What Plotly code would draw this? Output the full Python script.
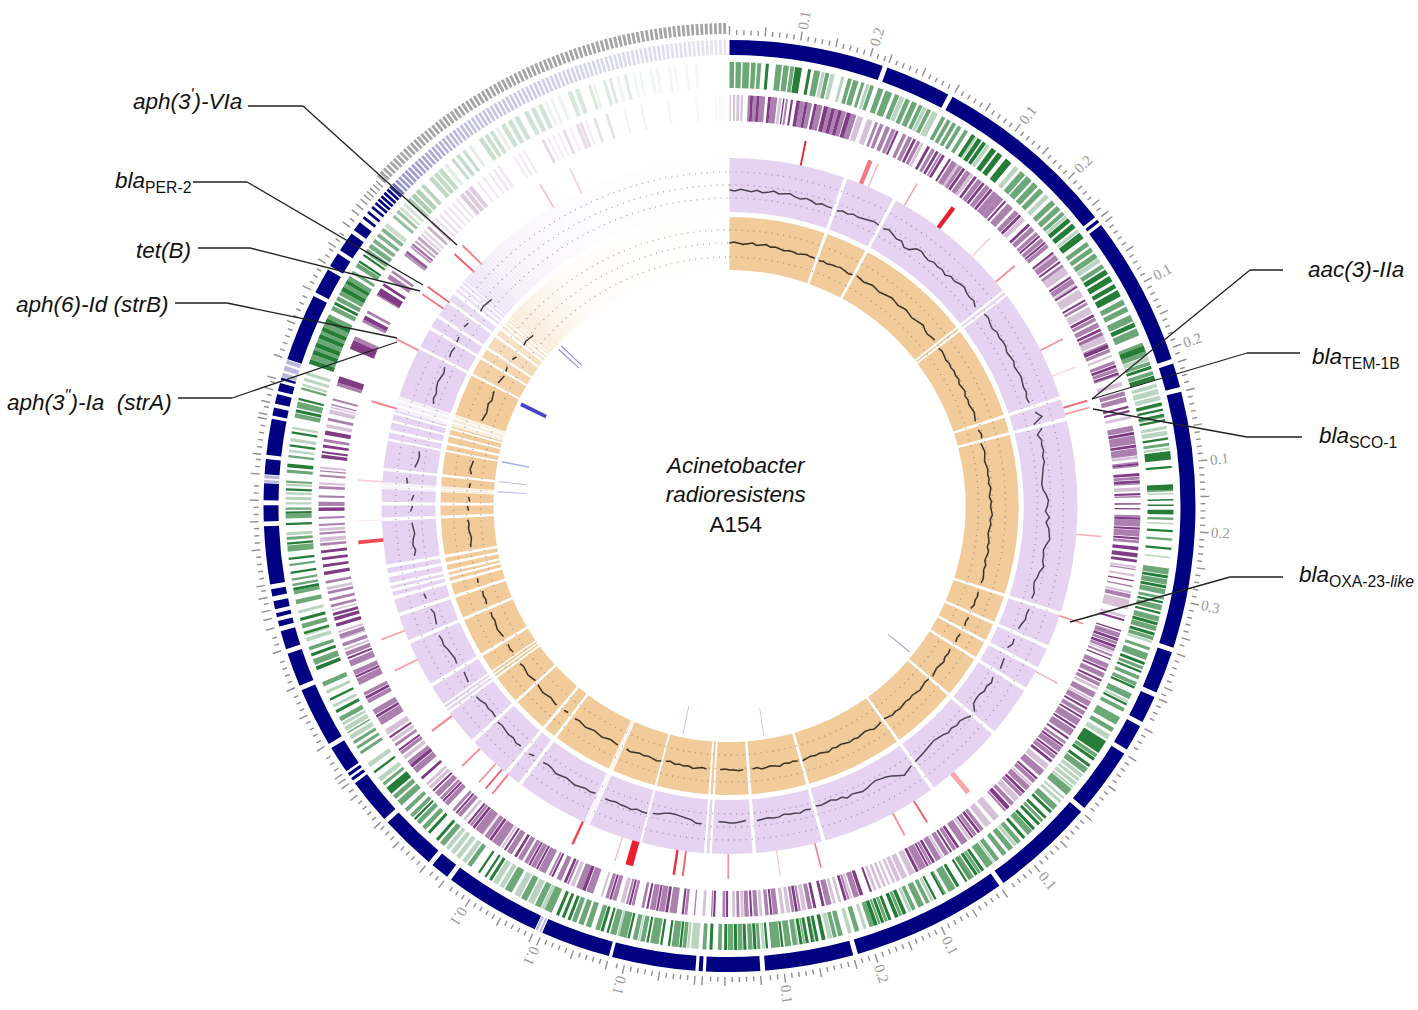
import numpy as np
import plotly.graph_objects as go

# ---------- contigs (degrees clockwise from 12 o'clock) ----------
contigs = [(0,19.2),(19.8,28),(28.6,51.7),(52.1,52.5),(52.9,71.6),(72.2,75.2),(75.8,107.7),(108.3,113.6),
 (114.2,117.6),(118.2,121.5),(122.1,130.4),(131,144),(144.6,164),(164.6,175.6),(176.2,182.9),(183.3,183.8),
 (184.2,194.6),(195,203.7),(204.7,216.7),(217.3,219.6),(220.2,227.2),(227.8,233.5),(233.9,234.3),(234.6,235),
 (235.3,238.7),(239.3,246.7),(247.3,251.5),(252.1,254.4),(255,255.7),(256.2,256.7),(257.2,258.2),(258.8,259.7),
 (260.3,267.5),(268.1,270.1),(270.7,272.8),(273.9,275.8),(276.3,280.8),(281.2,282.2),(282.7,283.9),(284.3,285.3),
 (285.7,286),(288.4,296.8),(297.3,300.5),(301,302.8),(303.3,305.8),(306.3,307.5)]
pale_contigs = [(203.85,204.1),(204.3,204.6),(272.9,273.2),(273.4,273.8),(286.1,286.6),(286.9,287.5),(287.8,288.3)]
rib_contigs = [308.1,308.95,309.75,310.4,310.95,311.5,312.05,312.6,313.1,313.6,314.15,314.7,315.25,315.8,316.35,316.9,
 317.45,318,318.55,319.1,319.65,320.2,320.75,321.3,321.85,322.4,322.95,323.5,324.05,324.6,325.15,325.7,326.25,326.8,
 327.35,327.9,328.45,329,329.55,330.1,330.65,331.2,331.75,332.3,332.85,333.4,333.95,334.5,335.05,335.6,336.15,336.7,
 337.25,337.8,338.35,338.9,339.45,340,340.55,341.1,341.65,342.2,342.75,343.3,343.85,344.4,344.95,345.5,346.05,346.6,
 347.15,347.7,348.25,348.8,349.35,349.9,350.45,351,351.55,352.1,352.65,353.2,353.75,354.3,354.85,355.4,355.95,356.5,
 357.05,357.6,358.15,358.7,359.25]

# ---------- forward-strand genes (green track) ----------
green_dark = [(4.7,5.1),(8.5,9.4),(10.2,10.6),(33.1,33.6),(34,34.6),(34.8,35.3),(36.2,36.9),(37.2,37.9),(38.5,39.4),(49.6,50.2),
 (50.5,51.2),(52,52.9),(57.8,58.5),(58.8,59.6),(60,60.6),(60.9,61.8),(65.6,66.2),(68.8,69.6),(71.6,72),(72.9,73.5),
 (76.5,76.9),(77.3,77.6),(78,78.3),(78.7,79),(81.1,81.4),(82.9,84),(84.8,85.1),(87.2,87.9),(89.1,89.3),(89.8,90),
 (90.5,91.1),(93.1,93.4),(95.4,95.7),(99,99.4),(100.3,100.7),(102.4,102.7),(103.8,104.1),(105.2,105.6),(106.6,107),
 (110.6,111),(111.8,112.1),(114,114.3),(116.4,116.7),(122,123.8),(124.6,125),(125.6,126),(133.4,133.8),(134.4,134.8),
 (135.6,136),(136.5,136.9),(138.2,138.6),(145,145.4),(146,146.4),(147.6,147.9),(148.8,149.2),(151,151.3),(152.2,152.5),
 (156.5,157),(157.6,158.1),(158.6,159),(159.6,160),(160.5,161),(167.5,168),(168.4,168.8),(169,169.4),(169.7,170.1),
 (170.5,170.9),(173,173.3),(175,175.3),(176.5,176.9),(177.8,178.2),(179,179.4),(180.3,180.7),(182.2,182.6),(186.2,186.5),
 (187.7,188),(188.7,189),(190.5,190.8),(193,193.3),(195.8,196.1),(196.5,196.9),(201,201.4),(201.8,202.2),(202.6,203),
 (212.4,212.8),(213.2,213.5),(214.2,214.5),(221,221.4),(222.4,222.8),(225,225.3),(229.6,230.6),(233,233.3),(242.2,242.6),
 (244,244.3),(248.3,248.8),(250.2,250.6),(253.2,253.5),(255,255.4),(259,259.4),(261.2,261.5),(263,263.3),(265,265.3),
 (267.5,267.8),(269,269.3),(272,272.3),(275,275.5),(277.7,278),(279.4,279.7),(282.2,282.6),(283.8,284.1),(288.7,289.3),
 (290,290.6),(291,291.6),(292.2,292.8),(293.2,293.8),(294.4,295),(297,297.4),(299,299.6),(300.1,300.6),(303.3,303.6),(304.3,304.6)]
green_mid = [(0,.6),(.8,1.5),(1.7,2.6),(2.8,3.4),(3.6,4.1),(6,6.8),(7,7.7),(7.9,8.4),(11,11.8),(12.5,13),(15.5,16),
 (16.2,16.9),(17.3,17.7),(18.5,19),(19.6,20.3),(20.6,21.5),(21.9,22.5),(23.4,24),(24.3,25),(25.3,25.8),(26.5,27),
 (28.6,29.1),(29.4,29.9),(30.2,30.7),(31,31.5),(32,32.5),(41,41.8),(42,42.9),(43.2,44),(44.3,45),(46.5,47.2),(47.5,48.2),
 (48.5,49),(53.5,54.1),(54.4,55),(55.3,56),(57,57.6),(62.3,63),(63.3,64),(64.5,65.4),(66.4,67.4),(68.4,68.8),(69.6,70.2),
 (71,71.5),(72.3,72.8),(76.7,77),(78.1,78.5),(81.8,82.2),(87.9,88.1),(91.5,91.8),(94.2,94.5),(98.1,98.9),(99.5,100.2),
 (100.8,101.5),(101.8,102.2),(102.9,103.6),(104.4,105.1),(105.7,106.4),(107.1,107.6),(108.6,109),(109.4,110.3),(111.2,111.6),
 (112.5,113),(113.4,113.9),(115,115.8),(117.1,117.6),(118.4,119.5),(120,120.6),(124,124.5),(126.2,127),(129.6,130.6),
 (132.4,133.2),(135,135.4),(137,137.8),(139,139.6),(140.3,141),(141.4,142),(142.6,143.2),(143.6,144.6),(145.5,145.9),
 (146.6,147.4),(149.4,150.4),(150.8,151),(153.2,153.7),(154,154.8),(155.2,155.7),(157.1,157.5),(159.1,159.5),(160.1,160.4),
 (161,161.6),(163,163.6),(165.2,165.8),(166,166.5),(168.9,169),(170.2,170.4),(171.2,171.8),(172,172.8),(173.4,174.6),
 (176,176.4),(177,177.6),(178.3,178.9),(179.5,180.2),(181,181.5),(183,183.5),(185.6,186.1),(186.6,187.5),(189.2,190.3),
 (191,191.6),(192,192.6),(193.4,194.4),(194.8,195.6),(197,197.6),(198.2,198.9),(199.2,199.9),(200.2,200.8),(203.6,204.6),
 (205.2,206),(207.2,208),(209.4,210.4),(215.6,216.2),(220,220.7),(223.2,223.8),(224.2,224.8),(225.5,226),(226.5,227),
 (227.6,228.4),(228.7,229.3),(231,231.4),(236,236.4),(236.8,237.2),(237.6,238),(239.2,239.4),(241,241.6),(246,246.6),
 (249,249.8),(251,251.5),(254,254.6),(257.2,257.8),(258.5,259),(259.6,259.9),(260.3,260.6),(262.2,262.5),(264.1,264.9),
 (265.6,266),(268.4,269),(269.5,269.8),(273,273.3),(274.3,274.7),(276.3,276.6),(281.5,282.1),(282.8,283.6),(285.2,285.5),
 (289.3,290),(290.6,291),(291.6,292.2),(292.8,293.2),(293.8,294.4),(295,295.6),(296.2,296.8),(297.6,298.2),(298.4,299),
 (299.6,300.1),(300.6,301.2),(301.6,302),(302.6,303.2),(304.8,305.4),(305.6,306.2),(306.5,307),(307.4,307.9),(308.3,308.8),
 (310.6,311),(311.4,311.8),(313.4,314),(314.2,314.8),(315,315.6),(316,316.5),(317.4,318),(318.2,318.8),(319,319.6),
 (321.2,321.6),(322,322.5),(323,323.4),(325.6,326.2),(326.5,327),(327.3,327.8),(329,329.6),(330,330.6),(331,331.6),(332.4,333),
 (333.4,334),(334.4,335),(338.6,339.2),(339.6,340.2),(341.4,341.8),(343.4,343.8),(344.2,344.6),(346.2,346.6)]
green_pale = [(12,12.4),(13.2,13.7),(14.6,15),(18,18.4),(22.6,23.2),(25.9,26.4),(27.2,28),(33.6,33.9),(35.4,35.9),(40,40.6),
 (45.4,46),(49.1,49.5),(51.5,51.9),(56.1,56.7),(70.3,70.9),(74,74.5),(74.7,75.4),(75.6,76.2),(79.6,80),(80.2,80.8),(82.4,82.7),
 (88.3,88.5),(92.2,92.4),(96.6,96.8),(107.7,108),(116,116.3),(121,121.7),(127.2,127.7),(127.9,128.3),(128.5,129),(129.2,129.5),
 (131,131.3),(131.6,132),(139.7,140.1),(143.3,143.5),(147,147.3),(152.6,153),(155.8,156.2),(162,162.4),(164,164.5),(166.6,167.2),
 (171,171.2),(175.4,175.8),(184,185),(185.2,185.5),(191.7,191.9),(194.4,194.7),(204.6,205.1),(206.2,207),(208.2,209),
 (210.6,211.2),(211.5,212.2),(216.4,217),(217.4,218),(218.3,218.9),(219.2,219.7),(231.7,232.3),(234,234.6),(238.3,238.9),
 (239.6,240.2),(240.4,240.8),(243,243.4),(245,245.4),(252.2,252.7),(253,253.6),(256,256.4),(266.2,266.6),(270.2,270.5),
 (270.8,271.2),(271.5,271.8),(272.6,272.9),(277,277.3),(278.4,278.8),(280,280.3),(285.7,286),(286.4,286.8),(287.2,287.6),
 (309,309.6),(312,312.4),(312.7,313.1),(320,320.5),(324,324.4),(328.2,328.6),(335.4,335.7),(336.2,336.5),(337.2,337.6),
 (342,342.3),(345.2,345.6),(347.4,347.7),(348.2,348.5),(349.6,350),(350.4,350.8),(352,352.4),(352.8,353.1),(354.2,354.6),(355.5,355.9)]

# ---------- reverse-strand genes (purple track) ----------
purple_dark = [(2.9,3.3),(3.8,4.2),(5.4,5.8),(7.5,7.7),(8.6,8.9),(9.4,9.9),(10.6,11),(11.9,12.3),(13.3,13.9),(14.4,14.9),(15.4,15.9),
 (16.6,17.2),(24,24.3),(26.6,27),(28.8,29.2),(30.2,30.6),(31.2,31.6),(32.3,32.6),(34.6,35),(36.6,37),(38,38.4),(39.4,39.8),
 (42,42.3),(44.8,45.2),(46.6,47),(48.8,49.1),(50,50.3),(51.8,52.1),(53.4,53.7),(56,56.3),(57.6,57.9),(59.8,60.1),(62.2,62.6),
 (64.4,64.8),(66.8,67.4),(69.9,70.3),(71,71.3),(75.9,76.2),(76.5,76.8),(79.6,80),(81.4,81.8),(84,84.3),(85.4,85.8),(86.4,86.8),
 (88.2,88.5),(89.6,89.8),(90.3,90.5),(91.6,91.9),(93,93.3),(94.4,94.7),(95.7,96.2),(96.6,97.2),(97.5,97.9),(100.4,100.6),
 (106,106.3),(107.6,107.8),(108.8,109.2),(109.8,110.2),(111.8,112),(113.4,113.7),(115,115.3),(119.4,119.7),(120.8,121.1),
 (122.5,122.8),(124.3,124.6),(125.6,125.9),(127,127.3),(128.2,128.6),(131.4,131.7),(134,134.4),(137,137.6),(142.4,142.8),
 (143.6,143.9),(146,146.4),(147.2,147.5),(150,150.4),(151,151.3),(152.6,153),(159.7,160),(161,161.5),(163.4,163.8),(166.6,167),
 (167.8,168.2),(170.4,170.8),(174,174.3),(176.8,177.1),(180.2,180.5),(182,182.3),(186.4,186.7),(188.6,189),(190,190.3),
 (191.4,191.7),(193.9,194.2),(196.7,197),(200.5,201),(203.4,203.8),(205.4,205.7),(207.8,208.1),(209,209.3),(211.2,211.6),
 (213,213.3),(215.4,215.8),(218.3,218.7),(219.3,219.6),(221.5,221.8),(224,224.3),(226,226.3),(228.3,228.7),(230.5,231),
 (233.4,233.7),(235.6,235.9),(239,239.4),(242,242.4),(245.3,245.6),(248.1,248.4),(252.9,253.4),(253.8,254.3),(254.5,254.9),
 (260.3,260.8),(261.4,261.8),(262.4,262.8),(263.4,263.8),(269.3,269.8),(276.7,277.2),(277.4,277.7),(278.2,278.6),(280,280.6),
 (287.5,288.4),(292.5,293.8),(297,297.6),(301,302),(302.4,302.8),(308,308.4),(309.4,309.7)]
purple_mid = [(2.6,2.9),(3.3,3.8),(4.2,5),(5.8,6.7),(7.9,8.2),(9.9,10.6),(11,11.6),(12.3,13.1),(13.9,14.4),(14.9,15.4),(15.9,16.5),
 (17.2,18),(20.8,21.2),(21.5,22),(22.4,23),(23.3,23.8),(25,25.5),(25.8,26.4),(27.2,27.7),(29.5,30),(30.8,31.1),(32.8,33.6),
 (34,34.5),(35.2,35.9),(37.2,37.9),(38.6,39.3),(40,41),(41,41.8),(42.6,43.6),(44,44.7),(47.2,47.9),(48.2,48.7),(49.3,49.9),
 (50.4,51),(52.4,53.2),(54,54.4),(56.4,57.2),(60.3,60.7),(62.7,63.2),(63.5,64.2),(65,65.4),(66.6,66.8),(67.5,68),(69.3,69.8),
 (70.4,70.9),(71.2,71.5),(73.8,74.4),(74.6,75.3),(78.7,79.5),(80.1,81.3),(81.9,82.9),(83.8,84),(84.3,84.5),(85.9,86.3),(86.8,87),
 (88.6,88.8),(91.3,91.6),(91.9,92.9),(93.4,94.3),(94.8,95.2),(98.8,99),(101.2,101.4),(102.4,103),(108,108.7),(109.3,109.7),
 (110.3,110.7),(111.2,111.5),(112.6,113.3),(114,114.7),(115.5,116),(117,117.8),(118.4,119.2),(120,120.6),(121.3,122.3),(123,124),
 (125,125.4),(126,126.8),(127.4,128),(130,131),(131.8,132.4),(133,133.8),(134.5,135),(136.2,136.8),(137.7,138),(141.8,142.3),
 (143,143.5),(144.6,145.6),(146.5,147),(147.7,148.4),(149,149.8),(150.5,150.9),(151.4,152.4),(161.6,162.4),(163,163.3),(165.6,166.4),
 (168.4,169),(170,170.3),(170.9,171.3),(173.2,173.9),(174.5,175),(176,176.6),(177.3,177.9),(178.6,179),(180.6,181),(182.4,182.6),
 (184.8,185),(185.9,186.3),(187.4,188.4),(189.1,189.9),(190.4,191.2),(192,192.4),(193.4,193.8),(194.3,194.6),(196,196.6),(197.1,197.6),
 (199.4,200.4),(201,201.9),(203,203.3),(204.2,204.9),(205.8,206.1),(206.6,207.7),(208.2,208.9),(209.4,210),(210.3,211),(212,212.8),
 (214,215.3),(215.9,216.6),(217,218.2),(218.8,219.2),(220.8,221.4),(222,222.4),(223.2,223.9),(224.4,224.8),(225,225.8),(229.5,230.4),
 (231,231.6),(232.8,233.3),(234.2,234.6),(237.8,238.9),(239.5,240.3),(241.3,241.9),(242.5,243),(244.2,245.2),(245.7,246.4),(247,247.9),
 (248.6,249.2),(250,250.5),(251.2,251.8),(255.7,256.1),(256.6,257),(257.6,258),(259.1,259.5),(264.4,264.8),(266,266.3),(267.2,267.5),
 (268.2,268.5),(270,270.6),(271.2,271.5),(272.4,272.8),(274.1,274.4),(274.8,275),(279,279.4),(282,282.4),(284.2,284.4),(284.9,285.2),
 (287,287.5),(293.8,294.4),(296.6,297),(298,298.4),(300.8,301),(303.6,304.3),(304.6,305),(307.6,308),(309,309.3),(310,310.3),(310.6,311),
 (312.6,313),(313.4,313.8),(319,319.6),(319.8,320.4),(320.6,321.2),(332.8,333.2),(336,336.4),(338,338.5),(338.6,339),(340.6,341),(342.4,342.8)]
purple_pale = [(0,.2),(.5,.8),(1,1.4),(1.6,1.9),(6.9,7.3),(18.2,19),(19.6,20.4),(23.8,24),(27.8,28.2),(33.6,34),(35.9,36.4),(39.9,40),
 (45.3,46),(52.1,52.4),(54.4,55.6),(57.3,57.6),(58.2,59.4),(61,62),(64.9,66.4),(68.4,68.7),(72.4,73),(77.3,77.7),(83,83.4),(87.4,87.9),
 (98.4,98.7),(99.6,99.9),(102,102.3),(103.2,104.6),(105.4,105.8),(110.8,111),(116.2,116.6),(118,118.3),(129,129.8),(132.6,132.9),
 (135.2,136),(139,140),(140.5,141.4),(144,144.4),(148.6,148.9),(152.4,152.7),(153.2,154),(154.4,155.2),(155.4,156),(156.2,156.6),
 (157,157.3),(157.6,158),(158.3,158.7),(159,159.4),(162.6,162.9),(164.2,164.6),(165,165.4),(169.2,169.8),(171.5,172),(172.3,172.8),
 (175.4,175.8),(178,178.4),(179.2,179.6),(183.4,183.8),(194.8,195.4),(198,198.3),(202.2,202.7),(213.5,213.8),(216.8,217),(220,220.4),
 (226.5,227),(227.2,227.6),(232,232.5),(234.9,235.4),(236.2,237),(249.4,249.7),(251,251.2),(252,252.3),(255.2,255.4),(258.2,258.6),
 (265,265.6),(266.5,266.9),(273,273.3),(275.2,275.5),(281,281.5),(283,283.6),(283.8,284),(310.5,310.6),(311.2,311.6),(311.8,312.2),
 (314.2,314.5),(315,315.3),(315.8,316.1),(316.6,316.9),(317.4,317.7),(318.2,318.5),(322,322.3),(323,323.3),(324,324.3),(324.8,325.2),
 (325.6,326),(328.2,328.5),(329,329.3),(329.8,330.1),(333.6,333.9),(334.4,334.7),(335.2,335.5),(337,337.3),(339.4,339.7),(345,345.3),
 (347.4,347.7),(351.2,351.5),(355.2,355.5),(358,358.2),(358.5,358.7),(358.9,359.1),(359.3,359.5)]

# ---------- resistance / mobile elements ----------
red_theta = [11.8,22.2,23.5,30.2,36.9,44.2,49.9,63.4,68.1,73.6,74.7,94.7,108.4,118.4,140.2,148,152,165.8,172.2,180.2,187.2,188.6,
 195.6,197.9,204.9,219.5,220.8,222.2,225.8,232.9,243.8,249,264.4,267.7,274,286.3,296.6,304.6,306,312.5,314.3,329.5,334.7]
red_width = [.3,.7,.25,.25,.7,.25,.3,.25,.2,.3,.25,.25,.25,.2,.8,.3,.3,.25,.2,.25,.3,.4,1.2,.2,.4,.3,.3,.3,.3,.35,.25,.3,.55,.15,.2,.3,.3,.3,.3,.3,.3,.25,.25]
red_level = [1,.6,.3,.4,1,.2,.5,.5,.2,.7,.5,.35,.5,.4,.4,.7,.5,.6,.25,.5,.7,.9,1,.3,.8,.6,.7,.45,.5,.5,.45,.4,.8,.12,.25,.55,.5,.6,.7,.8,.7,.6,.5]
blue_theta = [129,171.5,191.5,273.5,276,281,296,312.5,313.6]
blue_width = [.25,.2,.2,.3,.3,.4,1,.3,.3]
blue_level = [.5,.35,.4,.35,.35,.45,1,.6,.6]

# ---------- GC content and GC skew (deviation, one value per degree from 0) ----------
gc_content = [-5,-6,-4,-5,-6,-4,-6,-5,-3,-5,-4,-3,-5,-6,-4,-5,-7,-5,-6,-6,
 -7,-5,-6,-4,-5,-4,-3,-2,-3,-4,-2,-4,-6,-5,-9,-8,-3,-2,-4,-5,
 -3,-4,-3,-5,-2,-3,-1,0,-2,-3,-2,-5,-1,-2,-1,-3,-4,-2,-3,-2,
 -2,-4,-3,-2,-4,-3,-2,-3,-4,-3,-5,-4,-3,-1,4,-6,1,-5,-2,-3,
 -2,-4,-3,-5,-6,-7,-8,-7,-4,-2,-3,-5,-1,-4,-1,0,1,-2,-4,-3,
 -3,-1,-4,-5,-7,-6,-4,-5,-3,-4,-5,-4,-6,-7,-5,-7,-6,-9,-8,-7,
 -6,-5,-6,-7,-5,-7,-6,-8,-8,-7,-1,-1,-4,-6,-5,-7,-6,-8,-9,-10,
 -9,-8,-7,-6,-5,-4,-2,0,-3,-6,-8,-9,-10,-9,-7,-6,-7,-8,-6,-9,
 -8,-10,-9,-8,-9,-7,-8,-6,-7,-7,-8,-6,-6,-7,-6,-5,-7,-6,-5,-4,
 -4,-5,-5,-3,-4,-2,-2,-5,-6,-7,-8,-8,-7,-5,-4,-3,-3,-4,-2,-3,
 -3,-4,-3,-3,-2,-4,-3,-4,-3,-2,-3,-4,-3,-2,-4,-5,-4,-3,-4,-2,
 -3,-3,-2,-4,-3,-4,-5,-4,-6,-7,-6,-7,-5,-4,-6,-7,-6,-7,-8,-5,
 -6,-7,-6,-5,-3,-4,-3,-6,-5,-6,-7,-5,-3,-4,-3,-2,-4,-2,-1,-2,
 -3,-2,-4,-2,-3,-5,-4,-3,-1,-2,-4,-3,-5,-1,2,3,-2,-4,-6,-7,
 -6,-7,-5,-6,-8,-7,-5,-6,-7,-8,-6,-7,-5,-4,-5,-6,-4,-5,-4,-3,
 -4,-3,-2,-3,-1,-2,-4,-3,-5,-4,-5,-6]
gc_skew = [0,1,0,-1,0,1,-1,0,1,-1,0,-1,-2,-1,-1,-2,-1,0,-1,-1,
 -2,-1,-2,-1,-1,0,-1,-2,-1,0,-1,-2,-1,0,-1,-2,-1,0,1,0,
 -1,0,1,0,-1,0,1,2,0,-1,0,1,0,-1,0,-1,-2,-1,-2,-1,
 -2,-1,-3,-2,-1,-3,-2,-3,-2,-1,-2,-3,-2,-3,-1,-2,-4,-3,-2,-3,
 -4,-3,-2,-3,-2,-3,-1,-2,-3,-1,-2,-1,0,-2,-1,-2,-3,-2,-1,-2,
 0,-1,-2,0,-1,0,1,0,-1,0,1,0,1,-1,0,1,0,1,2,1,
 0,1,-1,0,1,0,2,1,0,1,2,1,0,1,2,1,0,1,0,1,
 2,1,2,1,0,1,2,3,1,0,1,2,1,2,1,0,1,0,2,1,
 0,1,0,1,2,1,0,1,0,2,1,0,1,2,0,1,0,1,2,1,
 1,0,1,2,0,1,0,1,2,0,1,0,1,-1,0,1,2,1,0,1,
 0,1,2,1,0,1,0,-1,0,1,0,-1,0,1,0,-1,0,1,-1,0,
 -1,1,0,-1,0,1,0,-1,-2,-1,0,-1,-2,-1,0,-1,-2,-1,-2,-1,
 -2,-1,0,-1,-2,-1,-2,0,-1,-2,-1,-2,-1,0,-1,-2,-1,-3,-2,-1,
 -2,-1,-2,-3,-2,-1,-2,-1,-3,-2,-1,-3,-2,-1,-2,-3,-2,-3,-1,-2,
 -3,-2,-1,-3,-2,-1,-2,-3,-2,-1,-2,-3,-2,-1,-3,-2,-1,-2,-1,-2,
 -3,-2,-1,-2,-1,-3,-2,-3,-2,-1,-2,-3]

# ---------- callouts ----------
callout_text = ["<i>aph(3<sup>'</sup>)-VIa</i>","<i>bla</i><sub>PER-2</sub>","<i>tet(B)</i>","<i>aph(6)-Id (strB)</i>",
 "<i>aph(3<sup>''</sup>)-Ia  (strA)</i>","<i>aac(3)-IIa</i>","<i>bla</i><sub>TEM-1B</sub>","<i>bla</i><sub>SCO-1</sub>","<i>bla</i><sub>OXA-23-<i>like</i></sub>"]
callout_x = [131,113,134,14,5,1306,1310,1317,1297]
callout_y = [100,182,250,304,401,269,358,437,576]
callout_path = [[(248,106),(303,106),(457,245)],[(193,182),(247,182),(423,285)],[(198,248),(250,248),(420,291)],
 [(175,303),(227,303),(397,338)],[(178,398),(232,398),(397,342)],[(1283,270),(1250,270),(1092,399)],
 [(1300,353),(1247,353),(1092,399)],[(1302,437),(1247,437),(1093,409)],[(1283,577),(1230,577),(1070,622)]]

TITLE = "<i>Acinetobacter<br>radioresistens</i><br>A154"
DEG_PER_KB10 = 0.87     # angular size of one 0.01 Mb tick step

# ---------- style ----------
W, H = 1418, 1010
CX, CY, RMAX = 729.5, 506, 500
NAVY, GREEN, PURPLE, RED, LILAC, ORANGE, INK = "0,0,128", "38,125,55", "120,50,125", "235,30,45", "229,211,241", "241,203,154", "67,70,200"

FADE_GENE = ([304,318,335,350,360],[1,.42,.3,.2,.12])
FADE_LILAC = ([300,306,316,326,340,360],[1,.85,.4,.15,.05,.01])
FADE_ORANGE = ([295,302,311,323,335,360],[1,.8,.4,.1,.03,.005])
FADE_NAVY = ([313,314,325,345,360],[1,.42,.25,.15,.1])
FADE_MARK = ([310,320,360],[1,.55,.3])

def rgba(c, a):
    return f"rgba({c},{a:.3f})"

fig = go.Figure()

def rings(starts_ends, r0, r1, colour, level=1.0, fd=None):
    s = np.array([p[0] for p in starts_ends], float); e = np.array([p[1] for p in starts_ends], float)
    m = (s + e) / 2
    a = level * (np.interp(m, *fd) if fd else np.ones_like(m))
    fig.add_trace(go.Barpolar(theta=m, width=e - s, base=[r0] * len(m), r=[r1 - r0] * len(m),
                              marker=dict(color=[rgba(colour, x) for x in a], line=dict(width=0)),
                              hoverinfo="skip", showlegend=False))

ribs = [(t, t + .34) for t in rib_contigs]
wide_ribs = [(t, t + .46) for t in rib_contigs]
rings(ribs[8:], 472, 483, "165,165,165")
rings(contigs, 451, 466, NAVY)
rings(pale_contigs, 451, 466, NAVY, .28)
rings(ribs, 451, 466, NAVY, 1, FADE_NAVY)
rings(green_pale, 418, 444, GREEN, .32, FADE_GENE)
rings(green_mid, 418, 444, GREEN, .68, FADE_GENE)
rings(green_dark, 418, 444, GREEN, 1, FADE_GENE)
rings(purple_pale, 385, 411, PURPLE, .3, FADE_GENE)
rings(purple_mid, 385, 411, PURPLE, .62, FADE_GENE)
rings(purple_dark, 385, 411, PURPLE, .95, FADE_GENE)
rt, rw, rl = np.array(red_theta), np.array(red_width), np.array(red_level)
fig.add_trace(go.Barpolar(theta=rt, width=rw, base=[346] * len(rt), r=[27] * len(rt),
    marker=dict(color=[rgba(RED, x) for x in rl * np.interp(rt, *FADE_MARK)], line=dict(width=0)),
    hoverinfo="skip", showlegend=False))
bt, bw, bl = np.array(blue_theta), np.array(blue_width), np.array(blue_level)
fig.add_trace(go.Barpolar(theta=bt, width=bw, base=[204] * len(bt), r=[28] * len(bt),
    marker=dict(color=[rgba(INK, x) for x in bl], line=dict(width=0)),
    hoverinfo="skip", showlegend=False))
for r0, r1, col, fd in [(294, 348, LILAC, FADE_LILAC), (236, 289, ORANGE, FADE_ORANGE)]:
    rings(contigs, r0, r1, col, 1, fd)
    rings(pale_contigs, r0, r1, col, .35)
    rings(wide_ribs, r0, r1, col, 1, fd)

circle = [i * .25 for i in range(0, 1441)]
for r in (249, 263, 276, 308, 321, 334):
    fig.add_trace(go.Scatterpolar(theta=circle, r=[r] * len(circle), mode="lines",
        line=dict(color="rgba(95,95,95,0.5)", width=1.4, dash="1px,5px"), hoverinfo="skip", showlegend=False))

all_contigs = sorted(contigs + pale_contigs)
def contig_of(t):
    for i, (s, e) in enumerate(all_contigs):
        if s <= t <= e:
            return i
    return -1
for vals, r0, colr in [(gc_content, 321, "#4a4450"), (gc_skew, 263, "#3c3226")]:
    tt, rr = [], []
    prev = None
    for i, v in enumerate(vals):
        c = contig_of(float(i))
        if prev is not None and c != prev:
            tt.append(None); rr.append(None)
        prev = c
        if c >= 0 or i > 306:
            tt.append(float(i)); rr.append(r0 + v)
    fig.add_trace(go.Scatterpolar(theta=tt, r=rr, mode="lines", line=dict(color=colr, width=1.5),
                                  connectgaps=False, hoverinfo="skip", showlegend=False))

tick_t, tick_r, labels = [], [], []
for s, e in contigs + ribs[:8]:
    k = 0
    while s + k * DEG_PER_KB10 <= e:
        t = s + k * DEG_PER_KB10
        tick_t += [t, t, None]
        tick_r += [471, 480 if k % 5 == 0 else 476, None]
        if k and k % 10 == 0:
            labels.append((t, f"{k / 100:.1f}"))
        k += 1
fig.add_trace(go.Scatterpolar(theta=tick_t, r=tick_r, mode="lines", line=dict(color="#8f8f8f", width=1.4),
                              hoverinfo="skip", showlegend=False))

ann = []
for t, txt in labels:
    rad = np.radians(t)
    x = CX + 492 * np.sin(rad); y = CY - 492 * np.cos(rad)
    ann.append(dict(x=x / W, y=1 - y / H, xref="paper", yref="paper", text=txt, showarrow=False, textangle=round(t - 90),
                    xanchor="center", yanchor="middle",
                    font=dict(family="Liberation Serif", size=15, color="#999999")))
for txt, x, y in zip(callout_text, callout_x, callout_y):
    ann.append(dict(x=x / W, y=1 - y / H, xref="paper", yref="paper", text=txt, showarrow=False, xanchor="left", yanchor="middle",
                    font=dict(family="Liberation Sans", size=22.5, color="#111")))
ann.append(dict(x=735 / W, y=1 - 495 / H, xref="paper", yref="paper", text=TITLE, showarrow=False, align="center",
                xanchor="center", yanchor="middle", font=dict(family="Liberation Sans", size=22.5, color="#111")))

shapes = []
for path in callout_path:
    for (x0, y0), (x1, y1) in zip(path[:-1], path[1:]):
        shapes.append(dict(type="line", xref="paper", yref="paper", x0=x0 / W, x1=x1 / W, y0=1 - y0 / H, y1=1 - y1 / H,
                           line=dict(color="#222", width=1.3)))

fig.update_layout(
    width=W, height=H, margin=dict(l=0, r=0, t=0, b=0), paper_bgcolor="white", showlegend=False,
    annotations=ann, shapes=shapes,
    polar=dict(domain=dict(x=[(CX - RMAX) / W, (CX + RMAX) / W], y=[1 - (CY + RMAX) / H, 1 - (CY - RMAX) / H]),
               bgcolor="rgba(0,0,0,0)", barmode="overlay",
               radialaxis=dict(visible=False, range=[0, RMAX]),
               angularaxis=dict(visible=False, rotation=90, direction="clockwise")))
fig.write_html("out.html", config={"displayModeBar": False},
               post_script="document.body.style.margin='0';document.documentElement.style.overflow='hidden';")
